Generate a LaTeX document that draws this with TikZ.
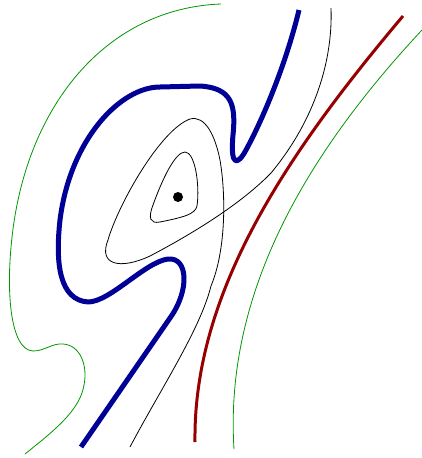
\documentclass[tikz,border=0pt]{standalone}
\usepackage{tikz}
\usetikzlibrary{positioning}
\definecolor{orbitblue}{RGB}{0,0,150}
\definecolor{orbitred}{RGB}{150,0,0}
\definecolor{orbitgreen}{RGB}{0,150,0}

\begin{document}
\begin{tikzpicture}[
        x=1pt, y=-1pt,
        separatrix/.style={draw=orbitblue, line width=5pt, line join=round},
        boundary/.style={draw=orbitred, line width=3pt},
        outer/.style={draw=orbitgreen, line width=0.8pt},
        orbit/.style={draw=black, line width=0.8pt},
        fixpoint/.style={circle, fill=black, inner sep=0pt, minimum size=10pt}
    ]
        \useasboundingbox (0,0) rectangle (422,458);

        \node[fixpoint] (eq) at (178,197) {};

        % green outer curves
        \draw[outer] (221,4) .. controls (110,8) and (30,100) .. (13,229)
            .. controls (5,290) and (10,350) .. (33,351)
            .. controls (45,351) and (52,343) .. (63,344)
            .. controls (80,345) and (88,365) .. (84,385)
            .. controls (80,410) and (55,430) .. (25,454);
        \draw[outer] (422,30) .. controls (310,150) and (224,290) .. (234,449);

        % red curve
        \draw[boundary] (403,16) .. controls (290,150) and (193,290) .. (195,442);

        % black orbits
        \draw[orbit] (185,152) .. controls (195,152) and (200,185) .. (197,206)
            .. controls (195,214) and (185,217) .. (160,222)
            .. controls (150,224) and (148,218) .. (153,205)
            .. controls (162,180) and (175,152) .. (185,152) -- cycle;
        \draw[orbit] (331,8) .. controls (333,60) and (315,120) .. (271,173)
            .. controls (240,205) and (190,235) .. (150,256)
            .. controls (120,270) and (98,265) .. (108,240)
            .. controls (118,205) and (160,130) .. (190,119)
            .. controls (205,115) and (215,135) .. (220,160)
            .. controls (226,195) and (226,250) .. (211,286)
            .. controls (200,330) and (160,390) .. (130,447);

        % blue thick curve
        \draw[separatrix] (299,10) .. controls (287,60) and (265,115) .. (246,150)
            .. controls (238,165) and (230,168) .. (233,135)
            .. controls (236,105) and (232,88) .. (200,86)
            -- (160,87)
            .. controls (120,87) and (70,140) .. (60,220)
            .. controls (55,265) and (60,300) .. (88,302)
            .. controls (110,302) and (145,262) .. (168,259)
            .. controls (188,257) and (190,290) .. (170,318)
            -- (81,447);

    \end{tikzpicture}
\end{document}
